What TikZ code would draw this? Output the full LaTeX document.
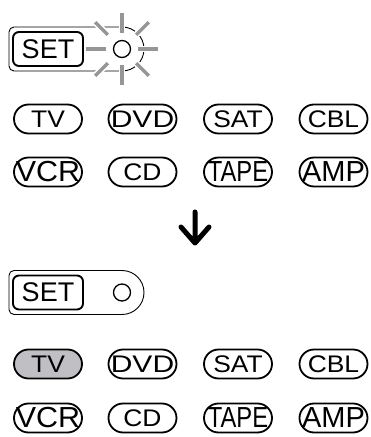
\documentclass[tikz,border=0pt]{standalone}
\usepackage{fontspec}
\setmainfont{Liberation Sans}
\usepackage{graphicx}
\usetikzlibrary{arrows.meta,positioning,calc}
\definecolor{raygray}{RGB}{150,150,150}
\definecolor{selgray}{RGB}{192,192,196}
\tikzset{
  pill/.style={rectangle,rounded corners=14.5pt,draw=black,line width=1.8pt,
               minimum width=68pt,minimum height=29pt,inner sep=0pt,fill=#1},
  pill/.default=white,
  setbtn/.style={rectangle,rounded corners=6pt,draw=black,line width=1.9pt,
                 minimum width=70pt,minimum height=34pt,inner sep=0pt,
                 font=\fontsize{27}{27}\selectfont},
  led/.style={circle,draw=black,line width=1.3pt,minimum size=17pt,inner sep=0pt},
  panel/.style={draw=black,line width=0.9pt},
  ray/.style={raygray,line width=3.2pt},
  rayback/.style={white,line width=6.5pt},
}

\begin{document}
\begin{tikzpicture}[x=1pt,y=1pt]
  \useasboundingbox (0,0) rectangle (370,437);

  %% SET panels (before / after)
  \foreach \grp/\yc in {pre/388, post/144.5}{
    \draw[panel] (122,\yc+22) -- (14,\yc+22)
      arc[start angle=90,end angle=180,radius=5] -- (9,\yc-17)
      arc[start angle=180,end angle=270,radius=5] -- (122,\yc-22)
      arc[start angle=-90,end angle=90,radius=22];
    \node[setbtn] (set\grp) at (48,\yc) {SET};
    \node[led] (led\grp) at (122,\yc) {};
  }

  %% blinking LED
  \foreach \ang/\rin/\rout in {0/16/36, 45/20/38, 90/16/36, 135/20/38,
                               180/16/36, 225/20/38, 270/16/36, 315/20/38}{
    \draw[rayback] ($(ledpre)+(\ang:\rin)$) -- ($(ledpre)+(\ang:\rout)$);
    \draw[ray] ($(ledpre)+(\ang:\rin)$) -- ($(ledpre)+(\ang:\rout)$);
  }

  %% source buttons
  \foreach \grp/\ytop/\ybot/\tvfill in {pre/318/265/white, post/73/19/selgray}{
    \foreach \lab/\x/\fs/\sx/\fc in {TV/48/24/1.1/\tvfill, DVD/142.5/24/1.25/white,
                                     SAT/238/24/1.1/white, CBL/333.5/24/1.1/white}
      \node[pill=\fc] (\grp\lab) at (\x,\ytop)
        {\fontsize{\fs}{\fs}\selectfont\scalebox{\sx}[1]{\lab}};
    \foreach \lab/\x/\fs/\sx in {VCR/48/29/1.05, CD/142.5/24/1.1,
                                 TAPE/238/29/0.82, AMP/333.5/29/1.0}
      \node[pill] (\grp\lab) at (\x,\ybot)
        {\fontsize{\fs}{\fs}\selectfont\scalebox{\sx}[1]{\lab}};
  }

  %% down arrow
  \coordinate (arrtop) at (195,225);
  \coordinate (arrtip) at (195,194);
  \draw[line width=5pt,line cap=round,line join=round]
    (arrtop) -- (arrtip)
    ($(arrtip)+(-14,16)$) -- (arrtip) -- ($(arrtip)+(14,16)$);

\end{tikzpicture}
\end{document}
